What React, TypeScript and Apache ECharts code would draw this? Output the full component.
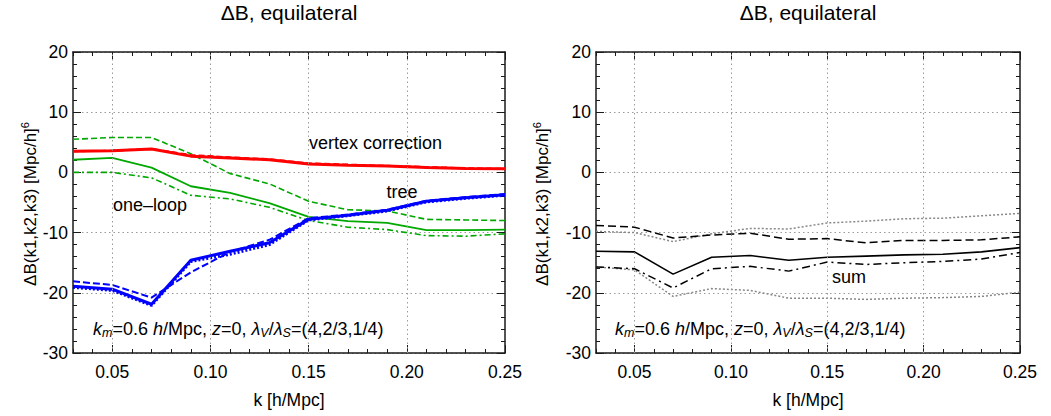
import React, { useEffect, useRef } from 'react';
import * as echarts from 'echarts';

const FONT = "'Liberation Sans', Arial, Helvetica, sans-serif";

// k values (h/Mpc)
const K = [0.03, 0.05, 0.07, 0.09, 0.11, 0.13, 0.15, 0.17, 0.19, 0.21, 0.23, 0.25];

// Left panel
const vertexSolid = [3.5, 3.6, 3.9, 2.7, 2.4, 2.1, 1.4, 1.2, 1.05, 0.8, 0.65, 0.6];
const vertexDashed = [3.5, 3.6, 3.9, 2.9, 2.5, 2.2, 1.5, 1.3, 1.1, 0.9, 0.7, 0.6];
const oneLoop = [2.1, 2.4, 0.8, -2.3, -3.4, -5.1, -7.4, -8.1, -8.4, -9.6, -9.6, -9.5];
const oneLoopUpper = [5.5, 5.8, 5.8, 3.1, -0.2, -1.9, -4.8, -6.2, -6.4, -7.8, -7.9, -8.0];
const oneLoopLower = [0.0, 0.0, -0.9, -3.8, -4.4, -5.8, -8.0, -9.1, -9.5, -10.5, -10.6, -10.2];
const tree = [-18.9, -19.4, -21.9, -14.6, -13.1, -11.7, -7.8, -7.1, -6.3, -4.8, -4.2, -3.7];
const treeDashed = [-18.1, -18.7, -20.8, -16.6, -13.2, -11.2, -7.6, -7.0, -6.2, -4.7, -4.1, -3.6];
const treeDotted = [-19.1, -19.6, -22.1, -14.8, -13.6, -12.0, -7.9, -7.2, -6.4, -4.9, -4.3, -3.8];

// Right panel
const sum = [-13.1, -13.2, -16.9, -14.1, -13.8, -14.6, -14.1, -13.9, -13.7, -13.6, -13.2, -12.5];
const sumUpper = [-8.8, -9.1, -10.9, -10.4, -10.1, -11.1, -11.0, -11.7, -11.3, -11.3, -11.2, -10.7];
const sumLower = [-15.7, -16.0, -19.2, -16.0, -15.6, -16.4, -14.9, -15.3, -15.0, -14.8, -14.4, -13.3];
const grayUpper = [-9.8, -10.0, -11.5, -10.2, -9.3, -9.4, -8.4, -8.1, -7.7, -7.6, -7.2, -6.8];
const grayLower = [-15.7, -16.2, -20.6, -19.3, -19.6, -20.9, -20.9, -21.1, -20.9, -20.8, -20.6, -19.9];

// ticks
const X_MAJOR = [0.05, 0.1, 0.15, 0.2, 0.25];
const X_GRID = [0.05, 0.1, 0.15, 0.2];

// annotation fragments: [text, italic, subscript]
const ANNOT: [string, boolean, boolean][] = [
  ['k', true, false], ['m', true, true], ['=0.6 ', false, false], ['h', true, false],
  ['/Mpc, ', false, false], ['z', true, false], ['=0, ', false, false],
  ['λ', true, false], ['V', true, true], ['/', false, false],
  ['λ', true, false], ['S', true, true], ['=(4,2/3,1/4)', false, false],
];
const Y_NAME = 'ΔB(k1,k2,k3) [Mpc/h]';
const Y_NAME_SUP = '6';

const AXIS_COLOR = '#1a1a1a';
const GRID_STYLE = { color: '#9a9a9a', type: [1.5, 3] as any, width: 1 };

const isMajor = (v: number) => Math.abs(v * 20 - Math.round(v * 20)) < 1e-6;

function xMain(g: number, pos: string, labels: boolean) {
  return {
    type: 'value', gridIndex: g, position: pos, min: 0.03, max: 0.25, interval: 0.01,
    axisLine: { show: true, onZero: false, lineStyle: { color: AXIS_COLOR, width: 1.5 } },
    axisTick: { show: true, inside: true, length: 4, lineStyle: { color: AXIS_COLOR, width: 1 } },
    axisLabel: labels ? { show: true, margin: 10, fontSize: 17.5, color: '#000', fontFamily: FONT,
      formatter: (v: number) => (isMajor(v) ? v.toFixed(2) : '') } : { show: false },
    splitLine: { show: false },
  };
}
function xMajor(g: number, pos: string) {
  return {
    type: 'value', gridIndex: g, position: pos, min: 0.03, max: 0.25, interval: 0.01,
    axisLine: { show: false, onZero: false },
    axisTick: { show: true, inside: true, length: 8, customValues: X_MAJOR, lineStyle: { color: AXIS_COLOR, width: 1 } },
    axisLabel: { show: false }, splitLine: { show: false },
  };
}
function yAx(g: number, pos: string, labels: boolean) {
  return {
    type: 'value', gridIndex: g, position: pos, min: -30, max: 20, interval: 10,
    axisLine: { show: true, onZero: false, lineStyle: { color: AXIS_COLOR, width: 1.5 } },
    axisTick: { show: true, inside: true, length: 8, lineStyle: { color: AXIS_COLOR, width: 1 } },
    minorTick: { show: true, splitNumber: 5, length: 4, lineStyle: { color: AXIS_COLOR, width: 1 } },
    axisLabel: labels ? { show: true, margin: 5, fontSize: 17.5, color: '#000', fontFamily: FONT } : { show: false },
    splitLine: { show: labels, lineStyle: GRID_STYLE },
  };
}

function line(data: number[], xi: number, yi: number, color: string, width: number, type: any, withGrid = false) {
  const s: any = {
    type: 'line', xAxisIndex: xi, yAxisIndex: yi,
    data: K.map((k, i) => [k, data[i]]),
    symbol: 'none',
    lineStyle: { color, width, type },
  };
  if (withGrid) {
    s.markLine = {
      silent: true, symbol: ['none', 'none'], label: { show: false },
      lineStyle: GRID_STYLE,
      data: X_GRID.map((v) => ({ xAxis: v })),
    };
  }
  return s;
}

const plain = (text: string, x: number, y: number, size: number, align = 'left', italic = false, rotation = 0) => ({
  type: 'text', x, y, rotation,
  style: {
    text, fontSize: size, fontFamily: FONT, fill: '#000',
    fontStyle: italic ? 'italic' : 'normal',
    align, verticalAlign: 'middle',
  },
});

function buildTexts() {
  const ctx = document.createElement('canvas').getContext('2d')!;
  const w = (t: string, size: number, italic: boolean) => {
    ctx.font = `${italic ? 'italic ' : ''}${size}px 'Liberation Sans'`;
    return ctx.measureText(t).width;
  };
  const els: any[] = [
    plain('ΔB, equilateral', 289, 12, 21, 'center'),
    plain('ΔB, equilateral', 808, 12, 21, 'center'),
    plain('k [h/Mpc]', 289, 400, 17.5, 'center'),
    plain('k [h/Mpc]', 808, 400, 17.5, 'center'),
    plain('vertex correction', 309, 143, 18),
    plain('tree', 402, 192, 18, 'center'),
    plain('one–loop', 113, 205, 18),
    plain('sum', 832, 277, 18),
  ];
  [93, 615].forEach((x0) => {
    let x = x0;
    ANNOT.forEach(([t, it, sub]) => {
      const size = sub ? 12.5 : 18;
      els.push(plain(t, x, sub ? 333 : 329, size, 'left', it));
      x += w(t, size, it);
    });
  });
  const w1 = w(Y_NAME, 17, false);
  const w2 = w(Y_NAME_SUP, 11, false);
  [30, 542].forEach((cx) => {
    const cy = 204;
    const bottom = cy + (w1 + w2) / 2;
    els.push(plain(Y_NAME, cx, bottom - w1 / 2, 17, 'center', false, Math.PI / 2));
    els.push(plain(Y_NAME_SUP, cx - 5, bottom - w1 - w2 / 2, 11, 'center', false, Math.PI / 2));
  });
  return els;
}

const option: any = {
  animation: false,
  grid: [
    { left: 73, top: 52, width: 432, height: 301 },
    { left: 596, top: 52, width: 424, height: 301 },
  ],
  xAxis: [
    xMain(0, 'bottom', true), xMajor(0, 'bottom'), xMain(0, 'top', false), xMajor(0, 'top'),
    xMain(1, 'bottom', true), xMajor(1, 'bottom'), xMain(1, 'top', false), xMajor(1, 'top'),
  ],
  yAxis: [
    yAx(0, 'left', true), yAx(0, 'right', false),
    yAx(1, 'left', true), yAx(1, 'right', false),
  ],
  series: [
    line(oneLoopUpper, 0, 0, '#00a800', 1.6, [6, 3], true),
    line(oneLoopLower, 0, 0, '#00a800', 1.6, [6, 3, 2, 3]),
    line(oneLoop, 0, 0, '#00a800', 1.8, 'solid'),
    line(vertexDashed, 0, 0, '#ff0000', 2, [6, 3]),
    line(vertexSolid, 0, 0, '#ff0000', 3, 'solid'),
    line(treeDashed, 0, 0, '#0000ff', 2, [7, 3]),
    line(treeDotted, 0, 0, '#0000ff', 3, [2, 2]),
    line(tree, 0, 0, '#0000ff', 3, 'solid'),

    line(grayUpper, 4, 2, '#888888', 1.5, [2, 2], true),
    line(grayLower, 4, 2, '#888888', 1.5, [2, 2]),
    line(sumUpper, 4, 2, '#000000', 1.5, [8, 4]),
    line(sumLower, 4, 2, '#000000', 1.5, [8, 4, 2, 4]),
    line(sum, 4, 2, '#000000', 1.6, 'solid'),
  ],
};

export default function App() {
  const ref = useRef<HTMLDivElement>(null);
  useEffect(() => {
    const chart = echarts.init(ref.current!, null, { renderer: 'svg' });
    chart.setOption({ ...option, graphic: buildTexts() });
    return () => chart.dispose();
  }, []);
  return (
    <div ref={ref} style={{ position: 'absolute', left: 0, top: 0, width: 1051, height: 416, background: '#fff' }} />
  );
}
